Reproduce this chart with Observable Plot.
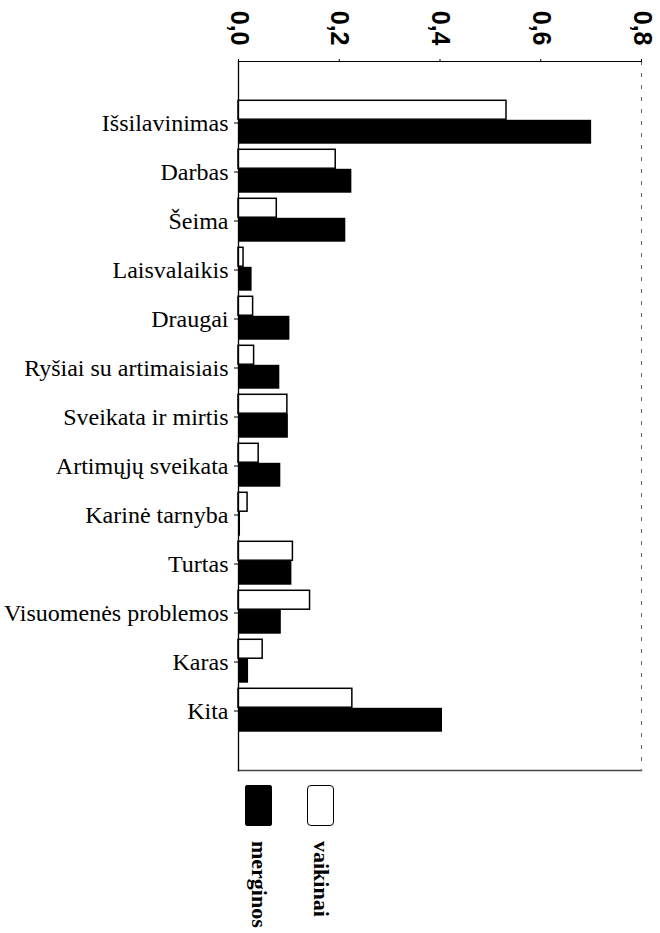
<!DOCTYPE html>
<html>
<head>
<meta charset="utf-8">
<script src="https://cdn.jsdelivr.net/npm/d3@7"></script>
<script src="https://cdn.jsdelivr.net/npm/@observablehq/plot@0.6"></script>
<style>
  html, body { margin: 0; padding: 0; background: #fff; }
  #chart svg { display: block; }
  #legend { position: relative; width: 660px; height: 158px; }
  .sw { position: absolute; box-sizing: border-box; }
  .lt { position: absolute; writing-mode: vertical-rl; font-family: "Liberation Serif", "Times New Roman", serif;
        font-weight: bold; font-size: 22px; line-height: 22px; color: #000; }
</style>
</head>
<body>
<div id="chart"></div>
<div id="legend"></div>
<script>
const categories = ["Išsilavinimas","Darbas","Šeima","Laisvalaikis","Draugai","Ryšiai su artimaisiais","Sveikata ir mirtis","Artimųjų sveikata","Karinė tarnyba","Turtas","Visuomenės problemos","Karas","Kita"];
const vaikinai = [0.532,0.193,0.076,0.010,0.029,0.031,0.097,0.040,0.018,0.108,0.142,0.048,0.226];
const merginos = [0.701,0.225,0.213,0.027,0.102,0.082,0.099,0.084,0.004,0.106,0.085,0.020,0.405];
const xTicks = [0, 0.2, 0.4, 0.6, 0.8];
const seriesNames = ["merginos", "vaikinai"];

const rows = categories.map((c, i) => ({category: c, vaikinai: vaikinai[i], merginos: merginos[i]}));

const firstTick = 116, lastTick = 711;
const step = (lastTick - firstTick) / (categories.length - 1);
const half = step / 2;
const mH = 24.5, vH = 19.5;

const chart = Plot.plot({
  width: 660,
  height: 775,
  marginTop: 61,
  marginBottom: 5,
  marginLeft: 238,
  marginRight: 19,
  style: {background: "#fff", color: "#000"},
  x: {domain: [0, 0.8]},
  y: {domain: categories, range: [firstTick - half, lastTick + half], padding: 0},
  marks: [
    Plot.barX(rows, {x: "vaikinai", y: "category", fill: "#fff", stroke: "#000", strokeWidth: 1.5,
      insetTop: half - vH, insetBottom: half}),
    Plot.barX(rows, {x: "merginos", y: "category", fill: "#000",
      insetTop: half, insetBottom: half - mH}),
    Plot.frame({anchor: "top", stroke: "#000", strokeWidth: 1.2}),
    Plot.frame({anchor: "bottom", stroke: "#444", strokeWidth: 1.5}),
    Plot.frame({anchor: "right", stroke: "#666", strokeDasharray: "3,9"}),
    Plot.frame({anchor: "left", stroke: "#000", strokeWidth: 1.3}),
    Plot.axisX({anchor: "top", ticks: xTicks, tickFormat: d => d.toFixed(1).replace(".", ","),
      tickRotate: 90, tickSize: 3, tickPadding: 13, fontSize: 25, fontWeight: "bold",
      fontFamily: "Liberation Sans, Arial, sans-serif", label: null}),
    Plot.axisY({anchor: "left", tickSize: 4, tickPadding: 6, fontSize: 24, dy: 3,
      fontFamily: "Liberation Serif, Times New Roman, serif", label: null})
  ]
});
document.getElementById("chart").appendChild(chart);

// legend
const legend = document.getElementById("legend");
const swatches = [
  {name: seriesNames[0], left: 245, fill: "#000", border: "1px solid #000", radius: "2px"},
  {name: seriesNames[1], left: 307, fill: "#fff", border: "1.5px solid #000", radius: "4px"}
];
for (const s of swatches) {
  const sw = document.createElement("div");
  sw.className = "sw";
  sw.style.left = s.left + "px";
  sw.style.top = "10px";
  sw.style.width = "27px";
  sw.style.height = "41px";
  sw.style.background = s.fill;
  sw.style.border = s.border;
  sw.style.borderRadius = s.radius;
  legend.appendChild(sw);
  const t = document.createElement("div");
  t.className = "lt";
  t.textContent = s.name;
  t.style.left = (s.left + 13.5 - 11) + "px";
  t.style.top = "66px";
  legend.appendChild(t);
}
</script>
</body>
</html>
